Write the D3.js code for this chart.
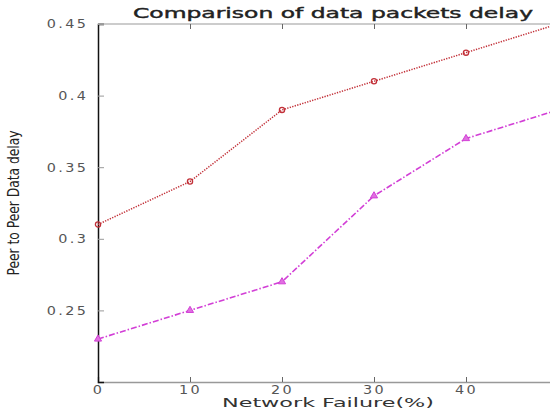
<!DOCTYPE html>
<html>
<head>
<meta charset="utf-8">
<script src="https://cdn.jsdelivr.net/npm/d3@7"></script>
<style>
  body { margin: 0; background: #fff; }
  svg { display: block; }
</style>
</head>
<body>
<div id="chart"></div>
<script>
// data
const failure = [0, 10, 20, 30, 40, 50];
const delayA = [0.31, 0.34, 0.39, 0.41, 0.43, 0.45];   // red, circles
const delayB = [0.23, 0.25, 0.27, 0.33, 0.37, 0.39];   // magenta, triangles
const xTicks = [0, 10, 20, 30, 40];
const yTicks = [0.25, 0.3, 0.35, 0.4, 0.45];

const W = 550, H = 411;
// plot box runs off the right edge of the picture, like the original
const margin = {top: 24, left: 98, right: -8, bottom: 29};
const width = W - margin.left - margin.right,
    height = H - margin.top - margin.bottom;

const svg = d3.select("#chart")
  .append("svg")
    .attr("width", W)
    .attr("height", H);

const g = svg.append("g")
    .attr("transform", `translate(${margin.left},${margin.top})`);

const x = d3.scaleLinear().domain([0, 50]).range([0, width]);
const y = d3.scaleLinear().domain([0.2, 0.45]).range([height, 0]);

const tickFont = "DejaVu Sans, Verdana, sans-serif";

// box lines
g.append("line").attr("x1", 0).attr("x2", width).attr("y1", 0).attr("y2", 0)
  .attr("stroke", "#999").attr("stroke-width", 1);
g.append("line").attr("x1", width).attr("x2", width).attr("y1", 0).attr("y2", height)
  .attr("stroke", "#999").attr("stroke-width", 1);

// bottom axis, ticks pointing in
const xAxis = g.append("g")
  .attr("transform", `translate(0,${height})`)
  .call(d3.axisBottom(x).tickValues(xTicks).tickSize(-5).tickPadding(3)
        .tickFormat(d3.format("d")));
xAxis.select(".domain").attr("stroke", "#999").attr("stroke-width", 1.5);
xAxis.selectAll(".tick line").attr("stroke", "#666");
xAxis.selectAll("text").attr("font-family", tickFont).attr("font-size", 12)
  .attr("fill", "#555").attr("letter-spacing", 2)
  .attr("transform", "scale(1.2,1)");

// top ticks
g.append("g")
  .call(d3.axisTop(x).tickValues(xTicks).tickSize(-5).tickFormat(""))
  .call(a => a.select(".domain").remove())
  .selectAll(".tick line").attr("stroke", "#666");

// left axis, ticks pointing in
const yAxis = g.append("g")
  .call(d3.axisLeft(y).tickValues(yTicks).tickSize(-6).tickPadding(8)
        .tickFormat(d => d3.format("")(d)));
yAxis.select(".domain").attr("stroke", "#111").attr("stroke-width", 1.5);
yAxis.selectAll(".tick line").attr("stroke", "#999");
yAxis.selectAll("text").attr("font-family", tickFont).attr("font-size", 12)
  .attr("fill", "#555").attr("letter-spacing", 2)
  .attr("transform", "scale(1.2,1)");

// right ticks
g.append("g")
  .attr("transform", `translate(${width},0)`)
  .call(d3.axisRight(y).tickValues(yTicks).tickSize(-5).tickFormat(""))
  .call(a => a.select(".domain").remove())
  .selectAll(".tick line").attr("stroke", "#999");

// lines
const line = d3.line().x((d, i) => x(failure[i])).y(d => y(d));

svg.append("clipPath").attr("id", "clip")
  .append("rect").attr("x", -4).attr("y", -4).attr("width", width + 8).attr("height", height + 8);

const plot = g.append("g").attr("clip-path", "url(#clip)");

plot.append("path")
  .datum(delayA)
  .attr("fill", "none")
  .attr("stroke", "#c23038")
  .attr("stroke-width", 1.5)
  .attr("stroke-dasharray", "1.3,1.3")
  .attr("d", line);

plot.append("path")
  .datum(delayB)
  .attr("fill", "none")
  .attr("stroke", "#d23fd6")
  .attr("stroke-width", 1.6)
  .attr("stroke-dasharray", "6,2,1.5,2")
  .attr("d", line);

// markers
plot.selectAll(".mA")
  .data(delayA)
  .join("circle")
    .attr("cx", (d, i) => x(failure[i]))
    .attr("cy", d => y(d))
    .attr("r", 2.6)
    .attr("fill", "none")
    .attr("stroke", "#c23038")
    .attr("stroke-width", 1.3);

const tri = d3.symbol().type(d3.symbolTriangle).size(22);
plot.selectAll(".mB")
  .data(delayB)
  .join("path")
    .attr("transform", (d, i) => `translate(${x(failure[i])},${y(d)})`)
    .attr("d", tri)
    .attr("fill", "#e070e0")
    .attr("stroke", "#d23fd6")
    .attr("stroke-width", 1);

// titles
svg.append("text")
  .attr("x", 333).attr("y", 18)
  .attr("text-anchor", "middle")
  .attr("font-family", tickFont)
  .attr("font-size", 14)
  .attr("fill", "#222")
  .attr("stroke", "#222")
  .attr("stroke-width", 0.4)
  .attr("textLength", 400)
  .attr("lengthAdjust", "spacingAndGlyphs")
  .text("Comparison of data packets delay");

svg.append("text")
  .attr("x", 328).attr("y", 407)
  .attr("text-anchor", "middle")
  .attr("font-family", tickFont)
  .attr("font-size", 13)
  .attr("fill", "#333")
  .attr("textLength", 212)
  .attr("lengthAdjust", "spacingAndGlyphs")
  .text("Network Failure(%)");

svg.append("text")
  .attr("transform", "translate(19,203) rotate(-90)")
  .attr("text-anchor", "middle")
  .attr("font-family", "Liberation Sans Narrow, DejaVu Sans Condensed, sans-serif")
  .attr("font-size", 15)
  .attr("fill", "#222")
  .attr("textLength", 145)
  .attr("lengthAdjust", "spacingAndGlyphs")
  .text("Peer to Peer Data delay");
</script>
</body>
</html>
